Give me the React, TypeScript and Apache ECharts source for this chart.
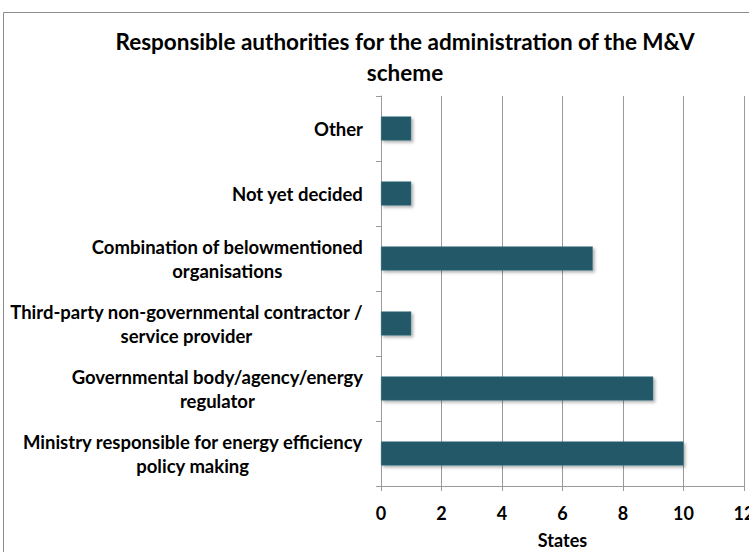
import React, { useEffect, useRef } from "react";
import * as echarts from "echarts";

const titleText = "Responsible authorities for the administration of the M&V\nscheme";
const categories = [
  "Other",
  "Not yet decided",
  "Combination of belowmentioned\norganisations",
  "Third-party non-governmental contractor /\nservice provider",
  "Governmental body/agency/energy\nregulator",
  "Ministry responsible for energy efficiency\npolicy making",
];
const values = [1, 1, 7, 1, 9, 10];
const xTicks = [0, 2, 4, 6, 8, 10, 12];
const xAxisName = "States";

const FONT = "Lato, 'Open Sans', sans-serif";

export default function App() {
  const ref = useRef<HTMLDivElement>(null);
  useEffect(() => {
    if (!ref.current) return;
    const chart = echarts.init(ref.current, undefined, { renderer: "svg" });
    chart.setOption({
      animation: false,
      backgroundColor: "#ffffff",
      title: {
        text: titleText,
        left: 405,
        top: 26,
        textAlign: "center",
        padding: 0,
        textStyle: {
          fontFamily: FONT,
          fontWeight: "bold",
          fontSize: 22.5,
          lineHeight: 31,
          color: "#000",
        },
      },
      graphic: [
        {
          type: "rect",
          shape: { x: 3.5, y: 12.5, width: 800, height: 600 },
          style: { fill: "none", stroke: "#8c8c8c", lineWidth: 1 },
          silent: true,
        },
      ],
      grid: {
        left: 381,
        right: 5,
        top: 96,
        bottom: 66,
        containLabel: false,
        outerBoundsMode: "none",
      },
      xAxis: {
        type: "value",
        min: xTicks[0],
        max: xTicks[xTicks.length - 1],
        interval: 2,
        name: xAxisName,
        nameLocation: "middle",
        nameGap: 45,
        nameTextStyle: { fontFamily: FONT, fontWeight: "bold", fontSize: 18, color: "#000" },
        axisLine: { show: true, lineStyle: { color: "#9a9a9a" } },
        axisTick: { show: true, length: 5, lineStyle: { color: "#9a9a9a" } },
        axisLabel: {
          margin: 18,
          fontFamily: FONT,
          fontWeight: "bold",
          fontSize: 18,
          color: "#000",
          hideOverlap: false,
          showMaxLabel: true,
        },
        splitLine: { show: true, lineStyle: { color: "#9a9a9a", width: 1 } },
      },
      yAxis: {
        type: "category",
        data: categories,
        inverse: true,
        axisLine: { show: true, lineStyle: { color: "#9a9a9a" } },
        axisTick: { show: true, length: 5, lineStyle: { color: "#9a9a9a" } },
        axisLabel: {
          margin: 18,
          align: "right",
          color: "#000",
          interval: 0,
          formatter: (v: string) =>
            v
              .split("\n")
              .map((l) => `{c|${l}}`)
              .join("\n"),
          rich: {
            c: {
              align: "center",
              fontFamily: FONT,
              fontWeight: "bold",
              fontSize: 18.5,
              lineHeight: 24,
              color: "#000",
            },
          },
        },
        splitLine: { show: false },
      },
      series: [
        {
          type: "bar",
          data: values,
          barWidth: "37%",
          itemStyle: {
            color: "#215968",
            borderColor: "#3f7585",
            borderWidth: 0.5,
            shadowBlur: 3,
            shadowOffsetX: 2,
            shadowOffsetY: 2,
            shadowColor: "rgba(0,0,0,0.3)",
          },
        },
      ],
    });
    return () => chart.dispose();
  }, []);
  return (
    <div
      ref={ref}
      style={{ position: "fixed", left: 0, top: 0, width: 749, height: 552 }}
    />
  );
}
